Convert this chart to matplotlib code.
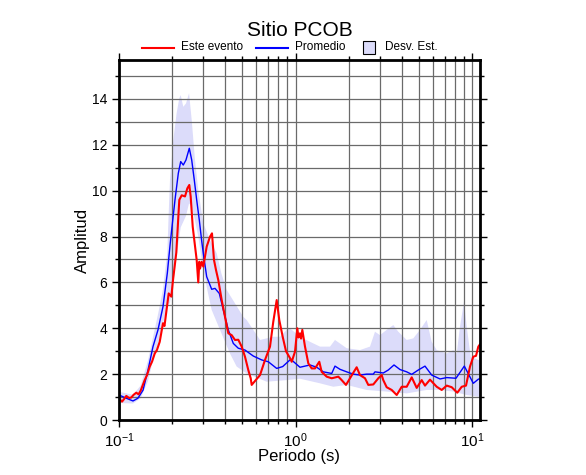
import matplotlib

matplotlib.use("Agg")
import matplotlib.pyplot as plt
import numpy as np
from matplotlib.lines import Line2D
from matplotlib.patches import Rectangle
from matplotlib.ticker import LogLocator, MultipleLocator, NullFormatter

plt.rcParams["font.family"] = ["Liberation Sans", "DejaVu Sans"]

# Promedio (mean spectral ratio)
mean_period = [0.100, 0.110, 0.120, 0.128, 0.1368, 0.146, 0.1558, 0.1663, 0.1775,
               0.1878, 0.1945, 0.1988, 0.2076, 0.2168, 0.2237, 0.2313, 0.2396,
               0.2502, 0.2582, 0.2670, 0.2755, 0.2851, 0.2942, 0.3003, 0.3139,
               0.3351, 0.3499, 0.3701, 0.3899, 0.4162, 0.4442, 0.4741, 0.5174,
               0.5765, 0.6436, 0.7014, 0.7824, 0.8461, 0.9394, 1.060, 1.208,
               1.319, 1.437, 1.604, 1.674, 1.787, 1.950, 2.125, 2.319, 2.531,
               2.759, 2.821, 3.143, 3.355, 3.615, 3.910, 4.266, 4.554, 4.962,
               5.416, 5.911, 6.588, 7.191, 8.116, 9.045, 10.17, 10.86, 11.1]
mean_amp = [1.09, 0.95, 0.83, 0.95, 1.30, 2.18, 3.20, 3.93, 4.94,
            6.40, 7.60, 8.29, 9.60, 10.76, 11.27, 11.12, 11.34,
            11.85, 11.34, 10.47, 9.60, 8.72, 7.80, 7.27, 6.25,
            5.70, 5.74, 5.52, 4.80, 3.93, 3.34, 3.13, 3.05,
            2.79, 2.62, 2.54, 2.25, 2.33, 2.65, 2.30, 2.40,
            2.30, 2.10, 2.03, 2.35, 2.21, 2.10, 2.00, 1.96, 2.00,
            2.00, 2.10, 2.05, 2.18, 2.40, 2.20, 2.10, 1.99, 2.18,
            2.35, 1.96, 1.79, 1.85, 1.82, 2.35, 1.60, 1.78, 1.80]

# Este evento (this event)
event_period = [0.100, 0.104, 0.107, 0.110, 0.114, 0.1174, 0.121, 0.1253, 0.129,
                0.1327, 0.1398, 0.144, 0.1493, 0.154, 0.1594, 0.164, 0.1701,
                0.1775, 0.181, 0.1854, 0.1912, 0.1979, 0.2023, 0.2112, 0.2196,
                0.2266, 0.2366, 0.2438, 0.2502, 0.2548, 0.2616, 0.2670, 0.2755,
                0.2813, 0.2851, 0.2877, 0.2942, 0.3003, 0.3139, 0.3277, 0.3364,
                0.3453, 0.3545, 0.3653, 0.3819, 0.3987, 0.4162, 0.4350, 0.4541,
                0.4741, 0.4956, 0.5174, 0.5402, 0.5574, 0.5646, 0.6295, 0.6719,
                0.7170, 0.7485, 0.7824, 0.8093, 0.8461, 0.8835, 0.9307, 0.9517,
                0.9935, 1.024, 1.040, 1.060, 1.075, 1.093, 1.132, 1.182, 1.235,
                1.290, 1.364, 1.407, 1.502, 1.604, 1.748, 1.827, 1.932, 2.036,
                2.125, 2.221, 2.319, 2.476, 2.585, 2.759, 2.945, 3.078, 3.143,
                3.285, 3.508, 3.745, 3.997, 4.266, 4.554, 4.861, 5.188, 5.416,
                5.781, 6.310, 6.736, 7.191, 7.674, 8.255, 8.743, 9.248, 9.743,
                10.17, 10.54, 10.86, 11.1]
event_amp = [0.94, 0.80, 0.92, 1.05, 0.96, 0.98, 1.10, 1.19, 1.12,
             1.28, 1.74, 1.95, 2.33, 2.55, 2.90, 3.05, 3.41,
             4.22, 4.10, 4.72, 5.52, 5.38, 6.10, 7.30, 9.60,
             9.80, 9.75, 10.10, 10.25, 9.74, 8.43, 7.85, 6.98,
             6.00, 6.90, 6.60, 6.90, 6.69, 7.56, 7.99, 8.14,
             6.98, 6.54, 6.10, 5.23, 4.50, 3.78, 3.70, 3.49,
             3.50, 3.20, 2.76, 2.18, 1.82, 1.53, 1.96, 2.62,
             3.20, 4.29, 5.23, 4.36, 3.63, 3.00, 2.70, 2.54,
             2.98, 4.00, 3.60, 3.78, 3.55, 3.93, 3.20, 2.47, 2.25,
             2.25, 2.54, 2.10, 1.89, 1.82, 1.89, 1.74, 1.53, 1.82,
             2.06, 2.30, 1.96, 1.82, 1.53, 1.55, 1.82, 1.96, 1.74,
             1.43, 1.31, 1.09, 1.45, 1.45, 1.86, 1.40, 1.74, 1.50,
             1.76, 1.45, 1.31, 1.50, 1.43, 1.19, 1.45, 1.50, 2.33,
             2.76, 2.80, 3.20, 3.30]

# Desv. Est. band (mean +/- std)
upper_period = [0.100, 0.120, 0.1327, 0.146, 0.1558, 0.1663, 0.1775, 0.1878, 0.1912,
                0.1945, 0.2030, 0.2123, 0.2196, 0.2237, 0.2313, 0.2396, 0.2494,
                0.2582, 0.2695, 0.2813, 0.3003, 0.3277, 0.3577, 0.380, 0.4076,
                0.5060, 0.5290, 0.6295, 0.7485, 0.8168, 0.8915, 0.9307, 1.060,
                1.208, 1.377, 1.569, 1.674, 1.950, 2.319, 2.643, 2.821, 3.011,
                3.285, 3.582, 3.824, 4.266, 4.650, 5.074, 5.537, 5.911, 6.310,
                7.191, 7.836, 8.191, 8.551, 9.010, 9.333, 9.833, 10.86, 11.1]
upper_amp = [1.23, 1.10, 1.50, 2.60, 3.60, 4.60, 5.70, 7.30, 9.00,
             10.47, 12.20, 13.40, 14.03, 14.17, 13.66, 13.80, 14.25,
             13.08, 11.34, 10.03, 8.58, 7.85, 7.27, 6.40, 5.67,
             4.50, 4.36, 3.49, 3.63, 3.63, 3.93, 4.00, 3.63,
             3.41, 3.20, 3.20, 3.49, 3.13, 3.05, 3.20, 3.85, 3.70,
             3.93, 4.14, 3.85, 3.49, 3.56, 3.93, 4.36, 3.41, 3.05,
             2.90, 3.05, 2.90, 4.07, 5.16, 4.07, 2.76, 2.62, 2.60]
lower_period = [0.100, 0.120, 0.1327, 0.146, 0.1558, 0.1663, 0.1775, 0.1878, 0.1945,
                0.2030, 0.2123, 0.2237, 0.2396, 0.2494, 0.2582, 0.2695, 0.2813,
                0.2942, 0.3139, 0.3351, 0.3735, 0.4255, 0.4643, 0.5290, 0.6869,
                0.8915, 1.060, 1.377, 1.638, 1.950, 2.531, 3.285, 4.266, 5.537,
                6.588, 7.836, 9.333, 10.86, 11.1]
lower_amp = [0.74, 0.72, 0.95, 1.70, 2.60, 3.30, 4.20, 5.00, 5.10,
             6.00, 7.20, 8.40, 8.90, 9.45, 9.30, 8.70, 8.00,
             7.00, 5.80, 4.80, 3.93, 2.90, 2.33, 2.03, 1.67,
             1.74, 1.80, 1.60, 1.45, 1.53, 1.31, 1.24, 1.16, 1.31,
             1.31, 1.24, 1.09, 1.02, 1.00]

BAND = "#dcdcfa"
W, H = 586, 475

fig = plt.figure(figsize=(W / 100, H / 100), dpi=100)
ax = fig.add_axes([119 / W, 1 - 420 / H, 361 / W, 360 / H])

band_x = upper_period + lower_period[::-1]
band_y = upper_amp + lower_amp[::-1]
ax.fill(band_x, band_y, color=BAND, lw=0, zorder=1)
ax.plot(mean_period, mean_amp, color="blue", lw=1.0, zorder=3)
ax.plot(event_period, event_amp, color="red", lw=1.5, zorder=4)

ax.set_xscale("log")
ax.set_xlim(0.1, 11.1)
ax.set_ylim(0, 15.7)
ax.xaxis.set_major_locator(LogLocator(base=10))
ax.xaxis.set_minor_locator(LogLocator(base=10, subs=np.arange(2, 10)))
ax.xaxis.set_minor_formatter(NullFormatter())
ax.yaxis.set_major_locator(MultipleLocator(2))
ax.yaxis.set_minor_locator(MultipleLocator(1))

ax.grid(which="both", color="#6a6a6a", lw=0.9, zorder=2)
ax.set_axisbelow(False)
for sp in ax.spines.values():
    sp.set_linewidth(2.0)
    sp.set_zorder(5)

ax.tick_params(which="both", direction="out", top=True, right=True, width=1.0,
               labelsize=11)
ax.tick_params(which="major", length=5)
ax.tick_params(which="minor", length=3)
ax.tick_params(axis="y", labelsize=10)

ax.set_xlabel("Periodo (s)", fontsize=12, labelpad=-1)
ax.set_ylabel("Amplitud", fontsize=12, labelpad=1)
fig.text(299.5 / W, 1 - 36 / H, "Sitio PCOB", fontsize=15, ha="center", va="baseline")

# legend drawn by hand in the GMT layout
ly = 1 - 47.5 / H
fig.add_artist(Line2D([142 / W, 174 / W], [ly, ly], color="red", lw=1.5))
fig.text(181 / W, ly, "Este evento", fontsize=8.5, va="center")
fig.add_artist(Line2D([256 / W, 288 / W], [ly, ly], color="blue", lw=1.5))
fig.text(295 / W, ly, "Promedio", fontsize=8.5, va="center")
fig.add_artist(Rectangle((363 / W, ly - 6 / H), 12 / W, 12 / H, facecolor=BAND,
                         edgecolor="black", lw=0.8, transform=fig.transFigure))
fig.text(385 / W, ly, "Desv. Est.", fontsize=8.5, va="center")

fig.savefig("out.png", dpi=100)
